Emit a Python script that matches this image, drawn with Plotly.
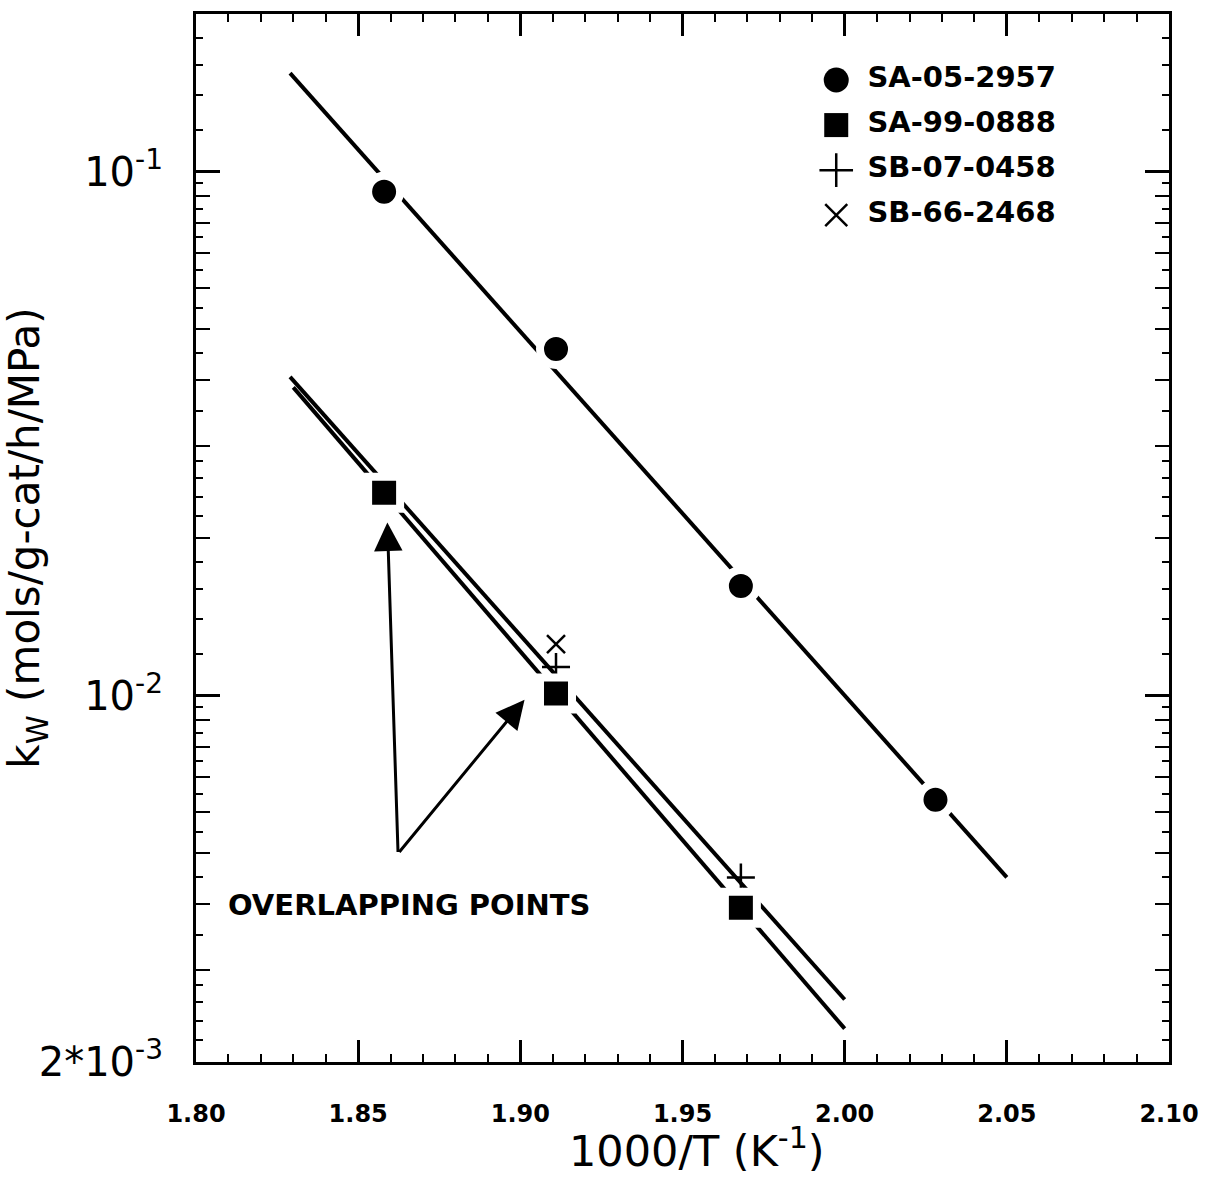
import numpy as np
import plotly.graph_objects as go

# ---------------- data ----------------
series_names = ["SA-05-2957", "SA-99-0888", "SB-07-0458", "SB-66-2468"]

x_sa05 = [1.858, 1.911, 1.968, 2.028]
k_sa05 = [0.0916, 0.0459, 0.0162, 0.00633]

x_sa99 = [1.858, 1.911, 1.968]
k_sa99 = [0.0244, 0.0101, 0.00394]

x_sb07 = [1.858, 1.911, 1.968]
k_sb07 = [0.0244, 0.01135, 0.0045]

x_sb66 = [1.858, 1.911, 1.968]
k_sb66 = [0.0244, 0.01255, 0.00394]

# x extents of the drawn fit lines
fit_x_sa05 = [1.829, 2.050]
fit_x_sa99 = [1.830, 2.000]
fit_x_sb = [1.829, 2.000]

# axes
x_range = [1.80, 2.10]
y_range = [0.002, 0.2]
x_tick_vals = [1.80, 1.85, 1.90, 1.95, 2.00, 2.05, 2.10]
x_tick_text = ["1.80", "1.85", "1.90", "1.95", "2.00", "2.05", "2.10"]
y_tick_vals = [0.002, 0.01, 0.1]
y_tick_text = ["2*10<sup>-3</sup>", "10<sup>-2</sup>", "10<sup>-1</sup>"]
y_medium_mult = [2, 3, 4, 5, 6, 7, 8, 9]
y_short_mult = [1.2, 1.4, 1.6, 1.8, 2.2, 2.4, 2.6, 2.8, 3.5, 4.5, 5.5, 6.5, 7.5, 8.5, 9.5]
decades = [0.001, 0.01, 0.1]
x_title = "1000/T (K<sup>-1</sup>)"
y_title = "k<sub>W</sub> (mols/g-cat/h/MPa)"

# annotation: arrows to overlapping points
arrow_tail = (1.8623, 0.0050)
arrow_heads = [(1.859, 0.0214), (1.9013, 0.00982)]
note_text = "OVERLAPPING POINTS"
note_pos = (1.8094, 0.00399)

# ---------------- helpers ----------------
def fit_line(xs, ks, xr):
    slope, icpt = np.polyfit(np.array(xs), np.log10(np.array(ks)), 1)
    xr = np.array(xr)
    return xr, 10 ** (icpt + slope * xr)

def in_range(v):
    return y_range[0] * 0.999 <= v <= y_range[1] * 1.001

medium_ticks = [d * m for d in decades for m in y_medium_mult if in_range(d * m) and d * m not in y_tick_vals]
short_ticks = [d * m for d in decades for m in y_short_mult if in_range(d * m)]

LW = 4
BLACK = "#000000"
FAM = "DejaVu Sans"
text_font = dict(family=FAM, size=29, color=BLACK, weight="bold")

fig = go.Figure()

# fit lines
lx, ly = fit_line(x_sa05, k_sa05, fit_x_sa05)
fig.add_trace(go.Scatter(x=lx, y=ly, mode="lines", line=dict(color=BLACK, width=LW),
                         showlegend=False, hoverinfo="skip"))
lx, ly = fit_line(x_sa99, k_sa99, fit_x_sa99)
fig.add_trace(go.Scatter(x=lx, y=ly, mode="lines", line=dict(color=BLACK, width=LW),
                         showlegend=False, hoverinfo="skip"))
lx, ly = fit_line(x_sb07 + x_sb66, k_sb07 + k_sb66, fit_x_sb)
fig.add_trace(go.Scatter(x=lx, y=ly, mode="lines", line=dict(color=BLACK, width=LW),
                         showlegend=False, hoverinfo="skip"))

# markers
fig.add_trace(go.Scatter(x=x_sb07, y=k_sb07, mode="markers", name=series_names[2],
                         marker=dict(symbol="cross-thin", size=20, color=BLACK, opacity=1,
                                     line=dict(color=BLACK, width=2.5)),
                         showlegend=False))
fig.add_trace(go.Scatter(x=x_sb66, y=k_sb66, mode="markers", name=series_names[3],
                         marker=dict(symbol="x-thin", size=18, color=BLACK, opacity=1,
                                     line=dict(color=BLACK, width=2.5)),
                         showlegend=False))
fig.add_trace(go.Scatter(x=x_sa99, y=k_sa99, mode="markers", name=series_names[1],
                         marker=dict(symbol="square", size=32, color=BLACK, opacity=1,
                                     line=dict(color="white", width=8)),
                         showlegend=False))
fig.add_trace(go.Scatter(x=x_sa05, y=k_sa05, mode="markers", name=series_names[0],
                         marker=dict(symbol="circle", size=32, color=BLACK, opacity=1,
                                     line=dict(color="white", width=8)),
                         showlegend=False))

# dummy trace for the fine-tick overlay axis
fig.add_trace(go.Scatter(x=[None], y=[None], xaxis="x", yaxis="y2", showlegend=False, hoverinfo="skip"))

# legend drawn as a small keyed panel
leg_idx = list(range(len(series_names)))[::-1]
leg_symbols = ["circle", "square", "cross-thin", "x-thin"]
leg_sizes = [25, 24, 24, 22]
for i, name in enumerate(series_names):
    fig.add_trace(go.Scatter(
        x=[0], y=[leg_idx[i]], xaxis="x3", yaxis="y3", mode="markers",
        marker=dict(symbol=leg_symbols[i], size=leg_sizes[i], color=BLACK, opacity=1,
                    line=dict(color=BLACK, width=0 if i < 2 else 2.5)),
        opacity=1, cliponaxis=False, showlegend=False, hoverinfo="skip"))
fig.add_trace(go.Scatter(
    x=[0.11] * len(series_names), y=leg_idx, xaxis="x3", yaxis="y3", mode="text",
    text=series_names, textposition="middle right", textfont=text_font,
    cliponaxis=False, showlegend=False, hoverinfo="skip"))

# arrows + note
for hx, hy in arrow_heads:
    fig.add_annotation(x=hx, y=np.log10(hy), ax=arrow_tail[0], ay=np.log10(arrow_tail[1]),
                       xref="x", yref="y", axref="x", ayref="y", text="", showarrow=True,
                       arrowhead=2, arrowsize=1.9, arrowwidth=3, arrowcolor=BLACK, standoff=0, startstandoff=0)
fig.add_annotation(x=note_pos[0], y=np.log10(note_pos[1]), xref="x", yref="y", text=note_text,
                   showarrow=False, xanchor="left", yanchor="middle", font=text_font)

# x-axis title placed under the tick labels
fig.add_annotation(x=0.515, y=-0.082, xref="paper", yref="paper", text=x_title, showarrow=False,
                   xanchor="center", yanchor="middle",
                   font=dict(family=FAM, size=43, color=BLACK))

fig.update_layout(
    width=1229, height=1179,
    margin=dict(l=196, r=60, t=14, b=117),
    paper_bgcolor="white", plot_bgcolor="white",
    showlegend=False,
    xaxis=dict(
        type="linear", range=x_range, showgrid=False, zeroline=False, automargin=False,
        showline=True, linewidth=3, linecolor=BLACK, mirror="ticks",
        ticks="inside", ticklen=22, tickwidth=2.5, tickcolor=BLACK,
        tickvals=x_tick_vals, ticktext=x_tick_text,
        tickfont=dict(family=FAM, size=24, color=BLACK, weight="bold"),
        ticklabelstandoff=28,
        minor=dict(ticks="inside", ticklen=8, tickwidth=2, tickcolor=BLACK, dtick=0.01, tick0=1.80),
    ),
    yaxis=dict(
        type="log", range=[np.log10(y_range[0]), np.log10(y_range[1])], showgrid=False, zeroline=False,
        automargin=False,
        showline=True, linewidth=3, linecolor=BLACK, mirror="ticks",
        ticks="inside", ticklen=24, tickwidth=2.5, tickcolor=BLACK,
        tickvals=y_tick_vals, ticktext=y_tick_text, tickfont=dict(family=FAM, size=40, color=BLACK),
        ticklabelstandoff=22,
        minor=dict(ticks="inside", ticklen=14, tickwidth=2, tickcolor=BLACK, tickvals=medium_ticks),
        title=dict(text=y_title, font=dict(family=FAM, size=42, color=BLACK), standoff=14),
    ),
    yaxis2=dict(
        type="log", range=[np.log10(y_range[0]), np.log10(y_range[1])], overlaying="y", side="left",
        showgrid=False, zeroline=False, showline=False, mirror="ticks", automargin=False,
        ticks="inside", ticklen=7, tickwidth=2, tickcolor=BLACK,
        tickvals=short_ticks, showticklabels=False,
    ),
    xaxis3=dict(domain=[0.658, 0.95], range=[0, 1], visible=False, fixedrange=True, anchor="y3"),
    yaxis3=dict(domain=[0.808, 0.937], range=[0, 3], visible=False, fixedrange=True, anchor="x3"),
)

fig.write_html("out.html")
